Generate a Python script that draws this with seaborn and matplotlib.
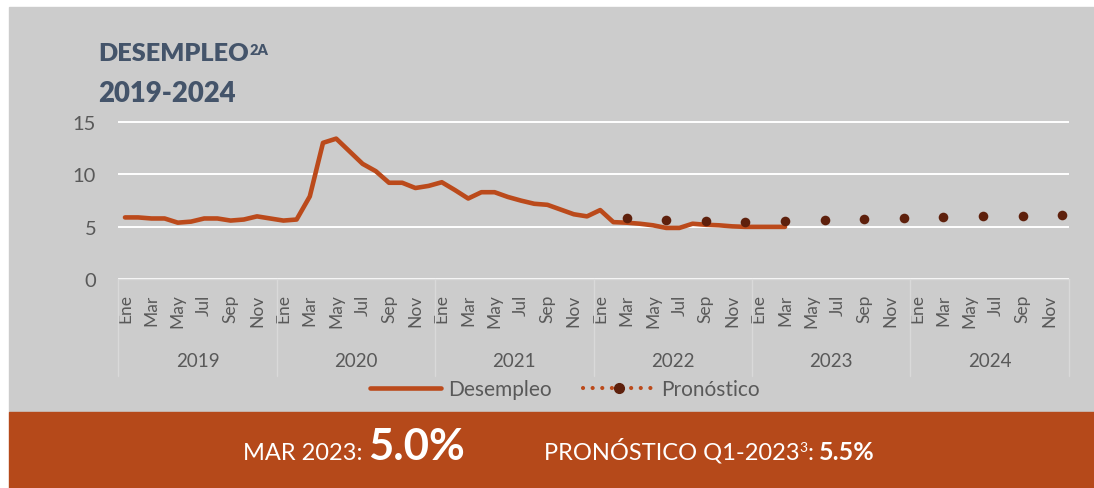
import matplotlib
matplotlib.use("Agg")
import matplotlib.pyplot as plt
from matplotlib.patches import Rectangle
from matplotlib.lines import Line2D
import pandas as pd
import seaborn as sns

# ---------------------------------------------
# Datos
# ---------------------------------------------
years = ["2019", "2020", "2021", "2022", "2023", "2024"]
meses = ["Ene", "Feb", "Mar", "Abr", "May", "Jun", "Jul", "Ago", "Sep", "Oct", "Nov", "Dic"]
periodos = [f"{m} {y}" for y in years for m in meses]

desempleo = [5.9, 5.9, 5.8, 5.8, 5.4, 5.5, 5.8, 5.8, 5.6, 5.7, 6.0, 5.8,
             5.6, 5.7, 7.9, 13.0, 13.4, 12.2, 11.0, 10.3, 9.2, 9.2, 8.7, 8.9,
             9.25, 8.5, 7.7, 8.3, 8.3, 7.85, 7.5, 7.2, 7.1, 6.65, 6.2, 6.0,
             6.6, 5.45, 5.4, 5.3, 5.15, 4.9, 4.9, 5.3, 5.2, 5.15, 5.05, 5.0,
             5.0, 5.0, 5.0]

pron_periodos = ["Mar 2022", "Jun 2022", "Sep 2022", "Dic 2022",
                 "Mar 2023", "Jun 2023", "Sep 2023", "Dic 2023",
                 "Mar 2024", "Jun 2024", "Sep 2024", "Dic 2024"]
pronostico = [5.8, 5.65, 5.55, 5.45, 5.53, 5.63, 5.73, 5.85, 5.95, 6.0, 6.08, 6.12]

meses_eje = ["Ene", "Mar", "May", "Jul", "Sep", "Nov"]

# colores
NARANJA = "#bb4a1b"
OSCURO = "#5e200c"
GRIS_FONDO = "#cccccc"
GRIS_TXT = "#595959"
AZUL = "#44546a"

W, H = 1094, 489

sns.set_style("white")
plt.rcParams["font.family"] = ["Lato", "DejaVu Sans"]

df_real = pd.DataFrame({"periodo": periodos[:len(desempleo)], "valor": desempleo})
df_real["pos"] = df_real["periodo"].map(periodos.index)
df_pron = pd.DataFrame({"periodo": pron_periodos, "valor": pronostico})
df_pron["pos"] = df_pron["periodo"].map(periodos.index)

fig = plt.figure(figsize=(W / 100, H / 100), dpi=100, facecolor="white")

# fondo gris y franja naranja
fig.add_artist(Rectangle((9 / W, 76 / H), 1 - 9 / W, (489 - 8 - 76) / H,
                         transform=fig.transFigure, color=GRIS_FONDO, zorder=0))
fig.add_artist(Rectangle((9 / W, 0), 1 - 9 / W, 76 / H,
                         transform=fig.transFigure, color="#b5491a", zorder=0))

ax = fig.add_axes([118.4 / W, (H - 280.4) / H, 950.4 / W, 158.1 / H])
ax.patch.set_alpha(0)

sns.lineplot(data=df_real, x="pos", y="valor", color=NARANJA, lw=3.3,
             solid_capstyle="round", ax=ax, legend=False, zorder=2)
sns.scatterplot(data=df_pron, x="pos", y="valor", color=OSCURO, s=48,
                linewidth=0, ax=ax, legend=False, zorder=3)

ax.set_xlim(-0.5, len(periodos) - 0.5)
ax.set_ylim(0, 15.05)
ax.set_yticks([0, 5, 10, 15])
ax.yaxis.grid(True, color="white", lw=1.4)
ax.set_axisbelow(True)
ax.set_xlabel("")
ax.set_ylabel("")

pos_eje = [i for i, p in enumerate(periodos) if p.split()[0] in meses_eje]
ax.set_xticks(pos_eje)
ax.set_xticklabels([periodos[i].split()[0] for i in pos_eje], rotation=90)
ax.tick_params(axis="x", length=0, pad=10, labelsize=12.5, labelcolor=GRIS_TXT)
ax.tick_params(axis="y", length=0, pad=16, labelsize=14.5, labelcolor=GRIS_TXT)

for s in ["top", "right", "left"]:
    ax.spines[s].set_visible(False)
ax.spines["bottom"].set_color("#d9d9d9")
ax.spines["bottom"].set_linewidth(1)

# años y separadores
xt = ax.get_xaxis_transform()
for i, y in enumerate(years):
    ax.text(i * 12 + 5.5, -0.516, y, transform=xt, ha="center", va="center",
            fontsize=13.5, color=GRIS_TXT)
for k in range(len(years) + 1):
    ax.plot([k * 12 - 0.5] * 2, [0, -0.609], transform=xt, color="#d9d9d9",
            lw=1, clip_on=False)

# leyenda
handles = [
    Line2D([], [], color=NARANJA, lw=3.3, solid_capstyle="round"),
    Line2D([], [], color=NARANJA, lw=3, ls=(0, (0.01, 2.3)), dash_capstyle="round",
           marker="o", ms=7, mfc=OSCURO, mec=OSCURO),
]
ax.legend(handles, ["Desempleo", "Pronóstico"], loc="center",
          bbox_to_anchor=(0.47, -0.693), ncol=2, frameon=False, fontsize=15,
          handlelength=3.4, columnspacing=1.5, handletextpad=0.35,
          labelcolor=GRIS_TXT, numpoints=1)

# textos en línea (título y franja)
renderer = fig.canvas.get_renderer()


def texto_en_linea(x_px, y_px, partes, color):
    x = x_px
    for s, size, weight, dy, gap in partes:
        t = fig.text(x / W, (H - y_px + dy) / H, s, fontsize=size,
                     fontweight=weight, color=color, va="baseline", ha="left")
        x = t.get_window_extent(renderer).x1 + gap


texto_en_linea(98, 61, [("DESEMPLEO", 18.2, "heavy", 0, 1),
                        ("2A", 10.5, "heavy", 6, 0)], AZUL)
texto_en_linea(98, 102, [("2019-2024", 19.8, "heavy", 0, 0)], AZUL)

texto_en_linea(243, 460, [("MAR 2023:", 17, "normal", 0, 6),
                          ("5.0%", 31.5, "bold", 0, 0)], "white")
texto_en_linea(544, 460, [("PRONÓSTICO Q1-2023", 17, "normal", 0, 0),
                          ("3", 10, "normal", 8, 0),
                          (":", 17, "normal", 0, 5),
                          ("5.5%", 18, "bold", 0, 0)], "white")

fig.savefig("out.png", dpi=100, facecolor="white")
